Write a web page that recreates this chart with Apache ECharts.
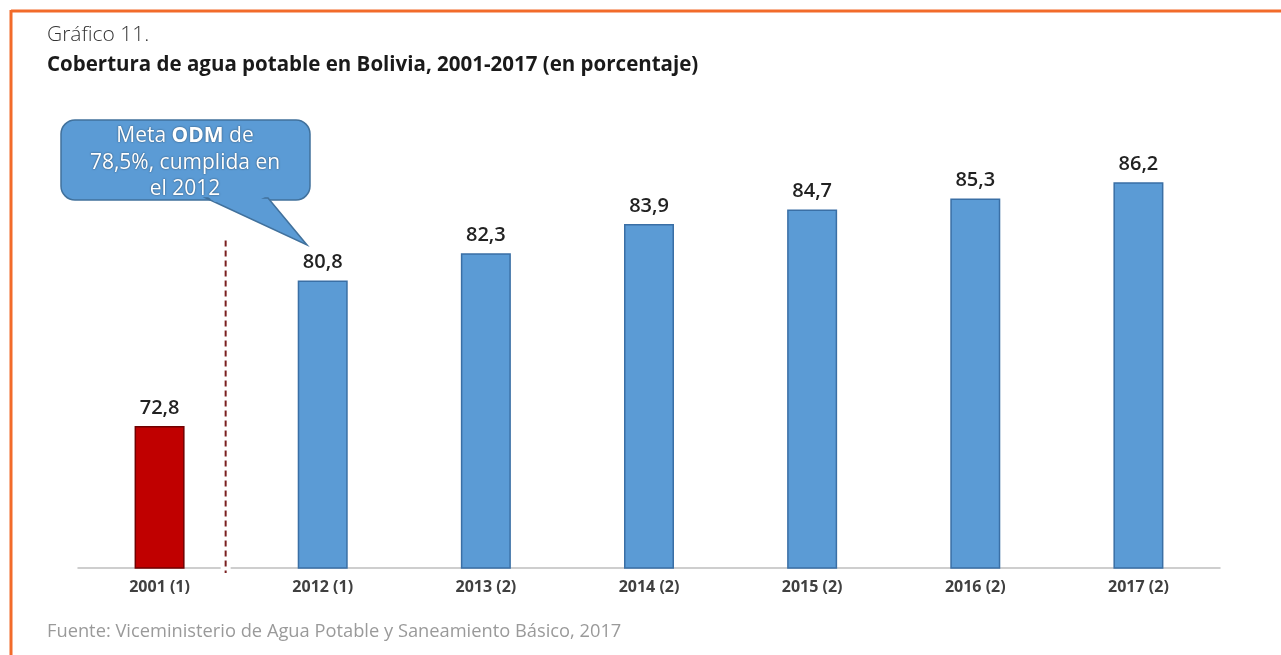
<!DOCTYPE html>
<html>
<head>
<meta charset="utf-8">
<script src="https://cdn.jsdelivr.net/npm/echarts@6/dist/echarts.min.js"></script>
<style>
  html, body { margin: 0; padding: 0; background: #fff; }
  #c { width: 1281px; height: 655px; }
</style>
</head>
<body>
<div id="c"></div>
<script>
// Cobertura de agua potable en Bolivia (%)
const categories = ['2001 (1)', '2012 (1)', '2013 (2)', '2014 (2)', '2015 (2)', '2016 (2)', '2017 (2)'];
const coverage = [72.8, 80.8, 82.3, 83.9, 84.7, 85.3, 86.2];
// first bar is the census baseline, the rest are the yearly series
const barKinds = ['base', 'serie', 'serie', 'serie', 'serie', 'serie', 'serie'];

const fill = { base: '#C00000', serie: '#5B9BD5' };
const edge = { base: '#700000', serie: '#3A6FA5' };

const fmt = v => v.toFixed(1).replace('.', ',');

const chart = echarts.init(document.getElementById('c'), null, { renderer: 'canvas' });

const option = {
  animation: false,
  backgroundColor: '#ffffff',
  grid: { left: 78, right: 61, top: 113, bottom: 87 },
  xAxis: {
    type: 'category',
    data: categories,
    axisTick: { show: false },
    axisLine: { show: true, lineStyle: { color: '#BFBFBF', width: 1.5 } },
    axisLabel: {
      color: '#404040',
      fontFamily: 'Open Sans, sans-serif',
      fontWeight: 'bold',
      fontSize: 16,
      margin: 11
    }
  },
  yAxis: {
    type: 'value',
    min: 65,
    max: 90,
    show: false,
    splitLine: { show: false }
  },
  series: [{
    type: 'bar',
    barWidth: 50,
    data: coverage.map((v, i) => ({
      value: v,
      itemStyle: { color: fill[barKinds[i]], borderColor: edge[barKinds[i]], borderWidth: 1.5 }
    })),
    label: {
      show: true,
      position: 'top',
      distance: 8,
      color: '#222222',
      fontFamily: 'Open Sans, sans-serif',
      fontWeight: 600,
      fontSize: 20,
      formatter: p => fmt(p.value)
    }
  }],
  graphic: [
    // orange frame
    { type: 'line', shape: { x1: 11, y1: 11, x2: 1281, y2: 11 }, style: { stroke: '#F26B2A', lineWidth: 3 } },
    { type: 'line', shape: { x1: 11, y1: 10, x2: 11, y2: 655 }, style: { stroke: '#F26B2A', lineWidth: 3 } },
    {
      type: 'text', left: 47, top: 25,
      style: { text: 'Gráfico 11.', fill: '#333333', font: '300 21px "Open Sans", sans-serif' }
    },
    {
      type: 'text', left: 47, top: 55,
      style: { text: 'Cobertura de agua potable en Bolivia, 2001-2017 (en porcentaje)', fill: '#1a1a1a', font: 'bold 20.5px "Open Sans", sans-serif' }
    },
    {
      type: 'text', left: 47, top: 623,
      style: { text: 'Fuente: Viceministerio de Agua Potable y Saneamiento Básico, 2017', fill: '#9A9A9A', font: '18.3px "Open Sans", sans-serif' }
    }
  ]
};

chart.setOption(option);

// annotations placed from the axis scales
const p0 = chart.convertToPixel({ xAxisIndex: 0 }, 0);
const p1 = chart.convertToPixel({ xAxisIndex: 0 }, 1);
const xDiv = p0 + 0.405 * (p1 - p0);
const yTop = chart.convertToPixel({ yAxisIndex: 0 }, 83);
const yBase = chart.convertToPixel({ yAxisIndex: 0 }, 65);

// callout box
const box = { x: 61, y: 120, w: 249, h: 80 };
const tip = [307, 245];
const blue = '#5B9BD5';
const blueEdge = '#41719C';
const calloutFont = '21px "Open Sans", sans-serif';
const shadow = { textShadowColor: 'rgba(0,0,0,0.55)', textShadowBlur: 2 };

chart.setOption({
  graphic: option.graphic.concat([
    // gap in the baseline around the divider
    { type: 'rect', shape: { x: xDiv - 5, y: yBase - 3, width: 10, height: 6 }, style: { fill: '#ffffff' }, z: 10 },
    {
      type: 'line', z: 11,
      shape: { x1: xDiv, y1: yTop, x2: xDiv, y2: yBase + 5 },
      style: { stroke: '#7A2020', lineWidth: 2, lineDash: [6, 4] }
    },
    {
      type: 'rect', z: 20,
      shape: { x: box.x, y: box.y, width: box.w, height: box.h, r: 14 },
      style: { fill: blue, stroke: blueEdge, lineWidth: 1.5 }
    },
    {
      type: 'polygon', z: 21,
      shape: { points: [[206, box.y + box.h - 2], tip, [268, box.y + box.h - 2]] },
      style: { fill: blue, stroke: blueEdge, lineWidth: 1.5 }
    },
    {
      type: 'polygon', z: 22,
      shape: { points: [[208, box.y + box.h - 3], [265, box.y + box.h - 3], [255, box.y + box.h + 2], [215, box.y + box.h + 2]] },
      style: { fill: blue }
    },
    {
      type: 'text', z: 23,
      x: 185, y: 136,
      style: {
        text: '{n|Meta }{b|ODM}{n| de}',
        align: 'center', verticalAlign: 'middle',
        rich: {
          n: Object.assign({ fill: '#ffffff', font: calloutFont }, shadow),
          b: Object.assign({ fill: '#ffffff', font: 'bold ' + calloutFont }, shadow)
        }
      }
    },
    {
      type: 'text', z: 23,
      x: 185, y: 163,
      style: Object.assign({
        text: '78,5%, cumplida en',
        align: 'center', verticalAlign: 'middle',
        fill: '#ffffff', font: calloutFont
      }, shadow)
    },
    {
      type: 'text', z: 23,
      x: 185, y: 189,
      style: Object.assign({
        text: 'el 2012',
        align: 'center', verticalAlign: 'middle',
        fill: '#ffffff', font: calloutFont
      }, shadow)
    }
  ])
});
</script>
</body>
</html>
